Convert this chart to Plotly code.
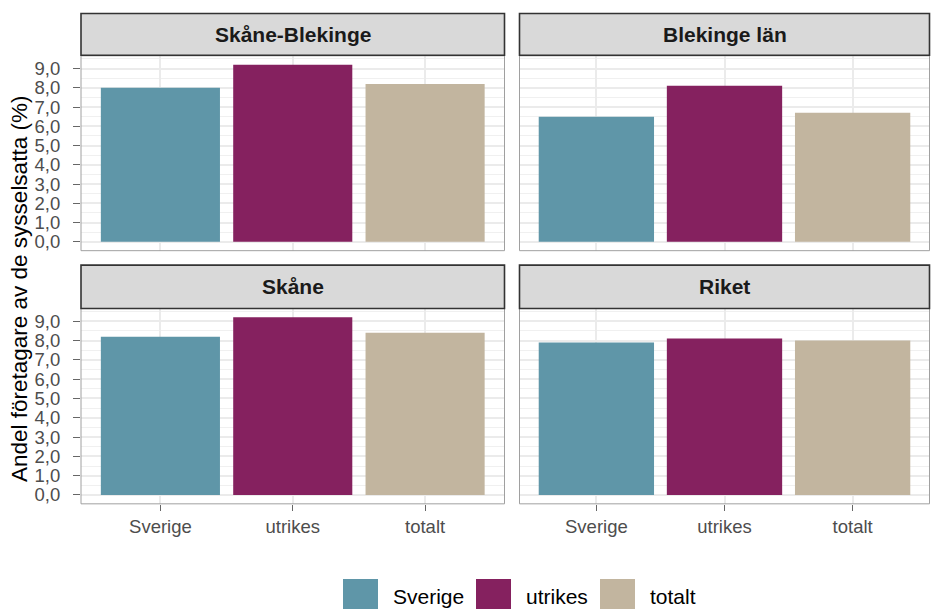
import plotly.graph_objects as go

W, H = 931, 609

categories = ["Sverige", "utrikes", "totalt"]
panels = ["Skåne-Blekinge", "Blekinge län", "Skåne", "Riket"]
values_skane_blekinge = [8.0, 9.2, 8.2]
values_blekinge = [6.5, 8.1, 6.7]
values_skane = [8.2, 9.2, 8.4]
values_riket = [7.9, 8.1, 8.0]
y_tickvals = [0, 1, 2, 3, 4, 5, 6, 7, 8, 9]
y_ticktext = ["0,0", "1,0", "2,0", "3,0", "4,0", "5,0", "6,0", "7,0", "8,0", "9,0"]
y_title = "Andel företagare av de sysselsatta (%)"

colors = ["#5F96A8", "#85215F", "#C2B59F"]
panel_values = [values_skane_blekinge, values_blekinge, values_skane, values_riket]

FONT = "Liberation Sans, Arial, sans-serif"

def px_x(x):
    return x / W

def px_y(y):
    return 1 - y / H

# panel geometry in pixels
cols_x = [(81, 504.5), (519.5, 929.5)]
rows_y = [(56, 251.5), (309.5, 505.5)]
strips_y = [(13.5, 55.5), (266, 309.5)]

fig = go.Figure()
shapes = []
annotations = []

ymin, ymax = -0.46, 9.66

for i, (name, vals) in enumerate(zip(panels, panel_values)):
    r, c = divmod(i, 2)
    ax = "" if i == 0 else str(i + 1)
    xa = "x" + ax
    ya = "y" + ax
    fig.add_trace(go.Bar(
        x=categories, y=vals, width=0.9,
        marker=dict(color=colors, line=dict(width=0)),
        xaxis=xa, yaxis=ya, showlegend=False,
        hovertemplate="%{x}: %{y:.1f}<extra>" + name + "</extra>",
    ))
    x0, x1 = cols_x[c]
    y0, y1 = rows_y[r]
    bottom = (r == 1)
    left = (c == 0)
    fig.update_layout(**{
        ("xaxis" + ax): dict(
            domain=[px_x(x0), px_x(x1)], anchor=ya,
            type="category", categoryorder="array", categoryarray=categories,
            range=[-0.6, 2.6],
            showgrid=True, gridcolor="#EBEBEB", gridwidth=1.6,
            showline=False, zeroline=False,
            showticklabels=bottom,
            ticks="outside" if bottom else "", ticklen=6, tickcolor="#666666", tickwidth=1,
            tickfont=dict(family=FONT, size=18.5, color="#4D4D4D"),
        ),
        ("yaxis" + ax): dict(
            domain=[px_y(y1), px_y(y0)], anchor=xa,
            range=[ymin, ymax],
            tickvals=y_tickvals, ticktext=y_ticktext,
            showgrid=True, gridcolor="#EBEBEB", gridwidth=1.6,
            minor=dict(dtick=0.5, tick0=0.5, showgrid=True, gridcolor="#F0F0F0", gridwidth=0.9),
            showline=False, zeroline=False,
            showticklabels=left,
            ticks="outside" if left else "", ticklen=7, tickcolor="#666666", tickwidth=1,
            ticklabelstandoff=9,
            tickfont=dict(family=FONT, size=18.5, color="#4D4D4D"),
        ),
    })
    # panel border
    shapes.append(dict(type="rect", xref="paper", yref="paper",
                       x0=px_x(x0), x1=px_x(x1), y0=px_y(y1), y1=px_y(y0),
                       line=dict(color="#A0A0A0", width=1), fillcolor="rgba(0,0,0,0)", layer="above"))
    # strip
    sy0, sy1 = strips_y[r]
    shapes.append(dict(type="rect", xref="paper", yref="paper",
                       x0=px_x(x0), x1=px_x(x1), y0=px_y(sy1), y1=px_y(sy0),
                       line=dict(color="#333333", width=1.6), fillcolor="#D9D9D9", layer="above"))
    annotations.append(dict(text="<b>" + name + "</b>", xref="paper", yref="paper",
                            x=px_x((x0 + x1) / 2), y=px_y((sy0 + sy1) / 2),
                            xanchor="center", yanchor="middle", showarrow=False,
                            font=dict(family=FONT, size=21, color="#1A1A1A")))

# y-axis title
annotations.append(dict(text=y_title, xref="paper", yref="paper",
                        x=px_x(19), y=px_y(290), textangle=-90,
                        xanchor="center", yanchor="middle", showarrow=False,
                        font=dict(family=FONT, size=22.5, color="#000000")))

# legend (manual, large swatches)
leg_swatch_x = [343, 476, 600]
for cat, col, sx in zip(categories, colors, leg_swatch_x):
    shapes.append(dict(type="rect", xref="paper", yref="paper",
                       x0=px_x(sx), x1=px_x(sx + 35), y0=px_y(616), y1=px_y(581),
                       line=dict(width=0), fillcolor=col))
    annotations.append(dict(text=cat, xref="paper", yref="paper",
                            x=px_x(sx + 48), y=px_y(598.5),
                            xanchor="left", yanchor="middle", showarrow=False,
                            font=dict(family=FONT, size=21, color="#000000")))

fig.update_layout(
    width=W, height=H,
    margin=dict(l=0, r=0, t=0, b=0),
    paper_bgcolor="white", plot_bgcolor="white",
    shapes=shapes, annotations=annotations,
    bargap=0.1, showlegend=False,
)

fig.write_html("out.html",
               config={"displayModeBar": False},
               post_script="document.body.style.margin='0';document.body.style.overflow='hidden';")
